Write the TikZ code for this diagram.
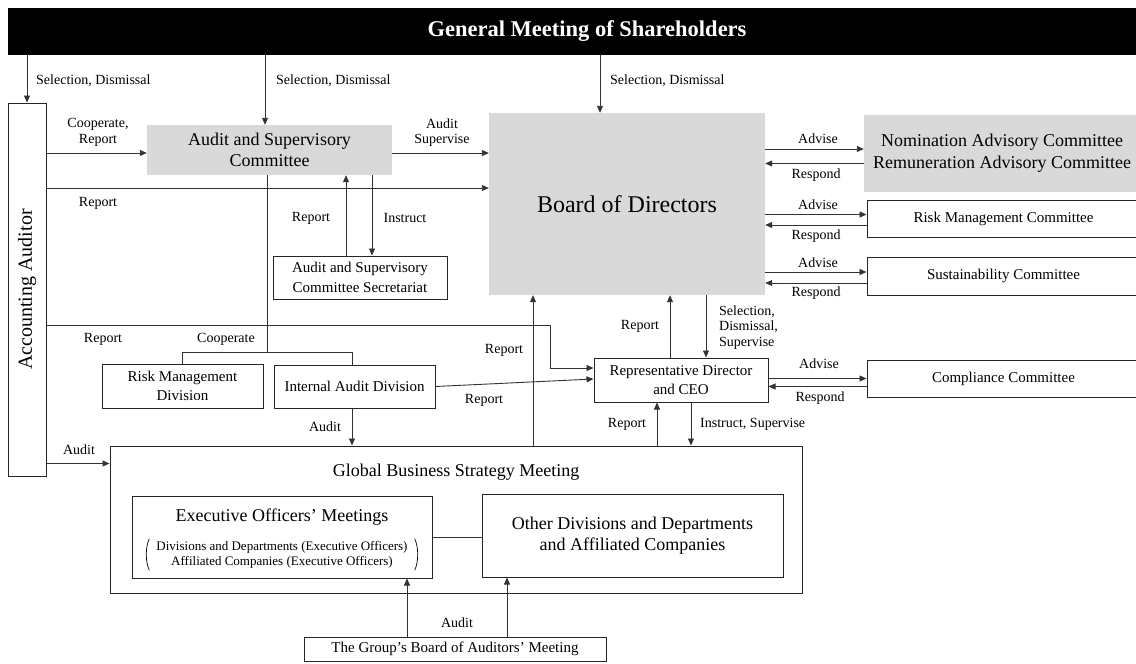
\documentclass[tikz,border=0pt]{standalone}
\usepackage{fontspec}
\setmainfont{Liberation Serif}
\usetikzlibrary{arrows.meta,calc}
\definecolor{boxgray}{HTML}{D9D9D9}
\definecolor{linegray}{HTML}{333333}
\tikzset{
  box/.style={draw=black!85, line width=1pt, inner sep=0pt, align=center, fill=white},
  graybox/.style={fill=boxgray, draw=none, inner sep=0pt, align=center},
  conn/.style={draw=linegray, line width=0.9pt},
  arr/.style={conn, -{Triangle[length=7pt,width=6pt]}},
  lbl/.style={inner sep=0pt, font=\fontsize{14}{15.5}\selectfont, align=center},
  lbll/.style={lbl, anchor=west, align=left},
  fsmall/.style={font=\fontsize{15}{19.5}\selectfont},
  fbig/.style={font=\fontsize{18}{21}\selectfont},
}
\begin{document}
\begin{tikzpicture}[x=1pt,y=-1pt]
\useasboundingbox (0,0) rectangle (1136,664);
% top bar
\node[fill=black, inner sep=0pt, minimum width=1132pt, minimum height=47pt] (bar) at (574,31.5) {};
\node[text=white, font=\fontsize{22.5}{24}\selectfont\bfseries, inner sep=0pt] (title) at (587,31) {General Meeting of Shareholders};
% main boxes
\node[box, minimum width=38pt, minimum height=373pt] (aud) at (27,289.5) {};
\node[rotate=90, inner sep=0pt, font=\fontsize{20}{22}\selectfont] (audt) at (aud.center) {Accounting Auditor};
\node[graybox, fbig, minimum width=245pt, minimum height=50pt] (asc) at (269.5,150) {Audit and Supervisory\\Committee};
\node[graybox, font=\fontsize{24}{28}\selectfont, minimum width=276pt, minimum height=182pt] (board) at (627,204) {\raisebox{-3pt}{Board of Directors}};
\node[graybox, font=\fontsize{18}{22}\selectfont, minimum width=276pt, minimum height=77pt] (nom) at (1002,153.5) {Nomination Advisory Committee\\Remuneration Advisory Committee};
\node[box, fsmall, minimum width=273pt, minimum height=37pt] (rmc) at (1003.5,218.5) {Risk Management  Committee};
\node[box, fsmall, minimum width=273pt, minimum height=38pt] (sus) at (1003.5,276) {Sustainability  Committee};
\node[box, fsmall, minimum width=273pt, minimum height=37pt] (comp) at (1003.5,378.5) {Compliance  Committee};
\node[box, fsmall, minimum width=174pt, minimum height=43pt] (sec) at (360,277.5) {Audit and Supervisory\\Committee  Secretariat};
\node[box, fsmall, minimum width=161pt, minimum height=44pt] (rmd) at (182.5,386) {Risk Management\\Division};
\node[box, fsmall, minimum width=161pt, minimum height=43pt] (iad) at (354.5,386.5) {Internal  Audit  Division};
\node[box, fsmall, minimum width=174pt, minimum height=44pt] (ceo) at (681,380) {Representative  Director\\and CEO};
\node[box, minimum width=692pt, minimum height=147pt] (gbs) at (456,519.5) {};
\node[inner sep=0pt, fbig] (gbst) at (456,472) {Global Business Strategy Meeting};
\node[box, minimum width=300pt, minimum height=82pt] (eom) at (282,537) {};
\node[inner sep=0pt, fbig] (eomt) at (282,517) {Executive Officers’ Meetings};
\node[inner xsep=10pt, inner ysep=2pt, align=center, font=\fontsize{13}{15}\selectfont] (eoms) at (282,554.5) {Divisions and Departments (Executive Officers)\\Affiliated Companies (Executive Officers)};
\draw[line width=0.7pt] ([xshift=3pt]eoms.north west) .. controls ([xshift=-1pt,yshift=-8pt]eoms.north west) and ([xshift=-1pt,yshift=8pt]eoms.south west) .. ([xshift=3pt]eoms.south west);
\draw[line width=0.7pt] ([xshift=-3pt]eoms.north east) .. controls ([xshift=1pt,yshift=-8pt]eoms.north east) and ([xshift=1pt,yshift=8pt]eoms.south east) .. ([xshift=-3pt]eoms.south east);
\node[box, fbig, minimum width=301pt, minimum height=83pt] (odd) at (632.5,535.5) {Other Divisions  and  Departments\\and Affiliated  Companies};
\node[box, fsmall, minimum width=302pt, minimum height=24pt] (grp) at (455,649) {The  Group’s  Board  of Auditors’  Meeting};
% connectors from the general meeting
\draw[arr] (bar.south -| aud.north) -- (aud.north);
\draw[arr] ([xshift=-4.5pt]asc.north |- bar.south) -- ([xshift=-4.5pt]asc.north);
\draw[arr] ([xshift=-27pt]board.north |- bar.south) -- ([xshift=-27pt]board.north);
\node[lbll] (l1) at (36,81) {Selection, Dismissal};
\node[lbll] (l2) at (276,81) {Selection, Dismissal};
\node[lbll] (l3) at (610,81) {Selection, Dismissal};
% auditor connectors
\draw[arr] ([yshift=-3pt]asc.west -| aud.east) -- ([yshift=-3pt]asc.west);
\node[lbl] (l4) at (98,132.5) {Cooperate,\\Report};
\draw[arr] ([yshift=-3pt]asc.east) -- ([yshift=-3pt]asc.east -| board.west);
\node[lbl] (l5) at (442,132.5) {Audit\\Supervise};
\draw[arr] ([yshift=16pt]board.west -| aud.east) -- ([yshift=16pt]board.west);
\node[lbl] (l6) at (98,203) {Report};
\coordinate (bend) at (550,325);
\draw[arr] (bend -| aud.east) -- (bend) |- ([yshift=12pt]ceo.west);
\node[lbl] (l7) at (103,339) {Report};
\draw[arr] ([yshift=-18pt]gbs.north west -| aud.east) -- ([yshift=-18pt]gbs.north west);
\node[lbl] (l8) at (79,450) {Audit};
% audit committee and secretariat
\draw[arr] ([xshift=-14pt]sec.north) -- ([xshift=-14pt]sec.north |- asc.south);
\node[lbl] (l9) at (311,218) {Report};
\draw[arr] ([xshift=12pt]sec.north |- asc.south) -- ([xshift=12pt]sec.north);
\node[lbl] (l10) at (405,218) {Instruct};
% cooperate bracket
\coordinate (coop) at (267,352);
\draw[conn] (asc.south -| coop) -- (coop);
\draw[conn] (rmd.north) |- ([xshift=-2.5pt]iad.north |- coop) -- ([xshift=-2.5pt]iad.north);
\node[lbl] (l11) at (226,339) {Cooperate};
% internal audit
\draw[arr] (iad.east) -- ([yshift=1pt]ceo.west);
\node[lbl] (l12) at (484,400) {Report};
\draw[arr] ([xshift=-2.5pt]iad.south) -- ([xshift=-2.5pt]iad.south |- gbs.north);
\node[lbl] (l13) at (325,427) {Audit};
% board / ceo / gbs
\draw[arr] ([xshift=-94pt]board.south |- gbs.north) -- ([xshift=-94pt]board.south);
\node[lbl] (l14) at (504,350) {Report};
\draw[arr] ([xshift=-11pt]ceo.north) -- ([xshift=-11pt]ceo.north |- board.south);
\node[lbl] (l15) at (640,326) {Report};
\draw[arr] ([xshift=25pt]ceo.north |- board.south) -- ([xshift=25pt]ceo.north);
\node[lbll] (l16) at (719,327.5) {Selection,\\Dismissal,\\Supervise};
\draw[arr] ([xshift=-24pt]ceo.south |- gbs.north) -- ([xshift=-24pt]ceo.south);
\node[lbl] (l17) at (627,424) {Report};
\draw[arr] ([xshift=10pt]ceo.south) -- ([xshift=10pt]ceo.south |- gbs.north);
\node[lbll] (l18) at (700,424) {Instruct, Supervise};
% advise / respond
\draw[arr] ([yshift=4.5pt]nom.west -| board.east) -- ([yshift=4.5pt]nom.west);
\draw[arr] ([yshift=-10pt]nom.west) -- ([yshift=-10pt]nom.west -| board.east);
\node[lbl] (a1) at (818,139) {Advise};
\node[lbl] (r1) at (816,175) {Respond};
\draw[arr] ([yshift=4pt]rmc.west -| board.east) -- ([yshift=4pt]rmc.west);
\draw[arr] ([yshift=-6.5pt]rmc.west) -- ([yshift=-6.5pt]rmc.west -| board.east);
\node[lbl] (a2) at (818,205) {Advise};
\node[lbl] (r2) at (816,236) {Respond};
\draw[arr] ([yshift=4pt]sus.west -| board.east) -- ([yshift=4pt]sus.west);
\draw[arr] ([yshift=-7pt]sus.west) -- ([yshift=-7pt]sus.west -| board.east);
\node[lbl] (a3) at (818,263) {Advise};
\node[lbl] (r3) at (816,293) {Respond};
\draw[arr] ([yshift=1.5pt]ceo.east) -- ([yshift=1.5pt]ceo.east -| comp.west);
\draw[arr] ([yshift=-6.5pt]ceo.east -| comp.west) -- ([yshift=-6.5pt]ceo.east);
\node[lbl] (a4) at (819,364) {Advise};
\node[lbl] (r4) at (820,398) {Respond};
% lower part
\draw[conn] (eom.east) -- (eom.east -| odd.west);
\draw[arr] ([xshift=-48pt]grp.north) -- ([xshift=-48pt]grp.north |- eom.south);
\draw[arr] ([xshift=52pt]grp.north) -- ([xshift=52pt]grp.north |- odd.south);
\node[lbl] (l19) at (457,623) {Audit};
\end{tikzpicture}
\end{document}
